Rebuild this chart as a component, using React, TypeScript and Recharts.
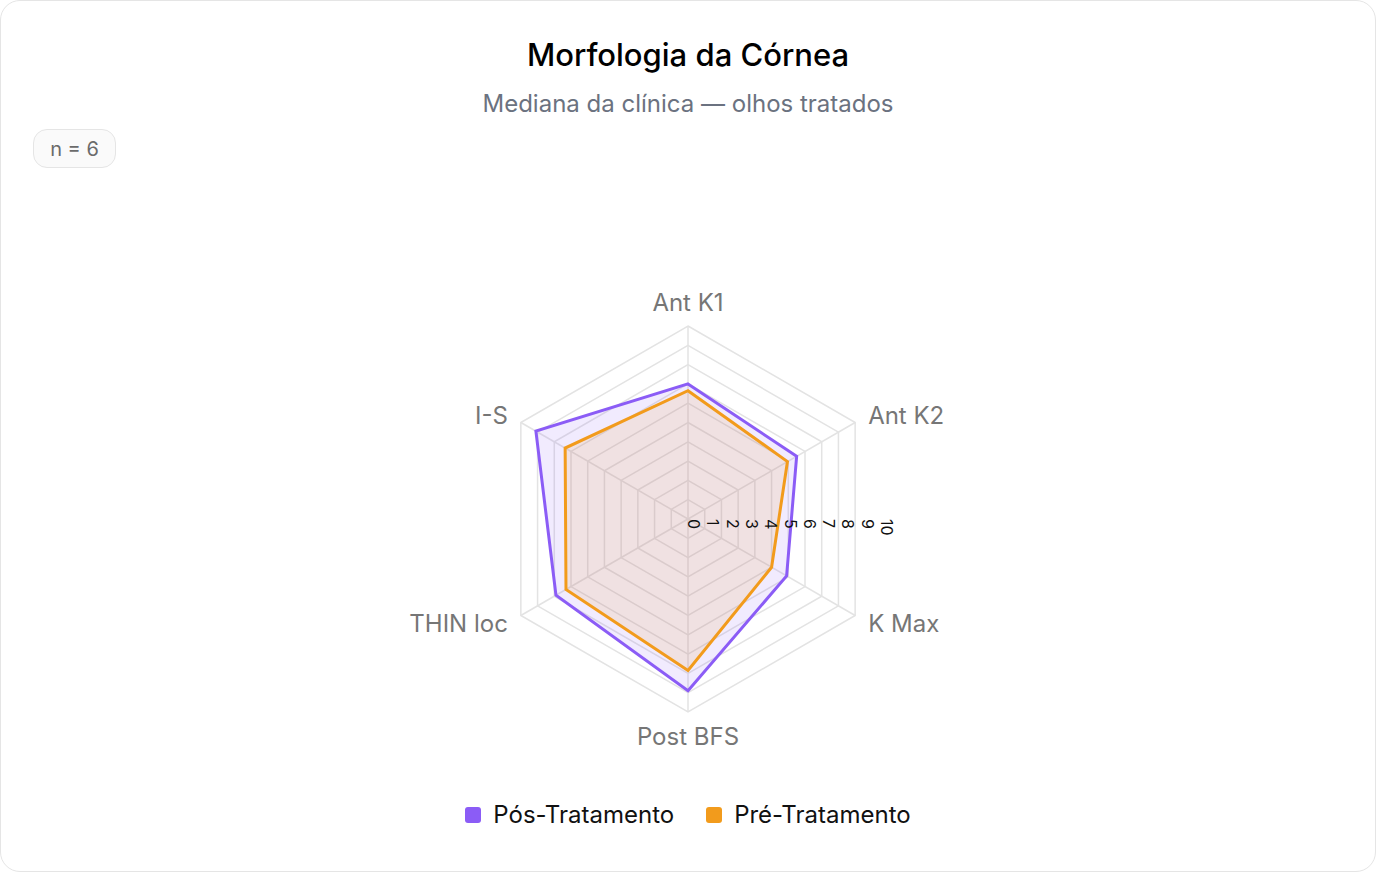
import { RadarChart, Radar, PolarGrid, PolarAngleAxis, PolarRadiusAxis } from 'recharts';

// ─── Dados ──────────────────────────────────────────────────
const categories = ['Ant K1', 'Ant K2', 'K Max', 'Post BFS', 'THIN loc', 'I-S'];
const posTratamento = [7.0, 6.5, 5.9, 8.9, 7.9, 9.1];
const preTratamento = [6.65, 5.95, 5.0, 7.85, 7.3, 7.35];
const radiusTicks = [0, 1, 2, 3, 4, 5, 6, 7, 8, 9, 10];

const data = categories.map((c, i) => ({
  metric: c,
  pos: posTratamento[i],
  pre: preTratamento[i],
}));

const CX = 688;
const CY = 519;
const R = 193;
const FONT = 'Inter, "Noto Sans", sans-serif';
const PURPLE = '#8b5cf6';
const ORANGE = '#f29b1c';

// ─── Tick do eixo angular ───────────────────────────────────
function AngleTick({ x, y, payload, textAnchor }: any) {
  const dx = x - CX;
  const dy = y - CY;
  const d = Math.hypot(dx, dy) || 1;
  const ux = dx / d;
  const uy = dy / d;
  const vertical = Math.abs(ux) < 0.01;
  const tx = x + ux * 7;
  const ty = y + uy * (vertical ? 16 : 7);
  return (
    <text
      x={tx}
      y={ty}
      textAnchor={textAnchor}
      dominantBaseline="central"
      fill="#767676"
      fontSize={24}
      fontFamily={FONT}
    >
      {payload.value}
    </text>
  );
}

// ─── Tick do eixo radial (rotacionado 90°) ──────────────────
function RadiusTick({ x, y, payload }: any) {
  return (
    <text
      x={x}
      y={y}
      transform={`rotate(90, ${x}, ${y})`}
      textAnchor="start"
      fill="#111"
      fontSize={16}
      fontFamily={FONT}
    >
      {payload.value}
    </text>
  );
}

export default function App() {
  return (
    <div style={{
      position: 'absolute', top: 0, left: 0, width: 1376, height: 872,
      boxSizing: 'border-box', border: '1px solid #e5e5e5', borderRadius: 20,
      background: '#fff', fontFamily: FONT, overflow: 'hidden',
    }}>
      <div style={{
        position: 'absolute', top: 35, left: 0, width: '100%', textAlign: 'center',
        fontSize: 31, fontWeight: 500, color: '#000', lineHeight: '38px',
      }}>
        Morfologia da Córnea
      </div>
      <div style={{
        position: 'absolute', top: 89, left: 0, width: '100%', textAlign: 'center',
        fontSize: 24, color: '#6b7280', lineHeight: '28px',
      }}>
        Mediana da clínica — olhos tratados
      </div>
      <div style={{
        position: 'absolute', top: 128, left: 32, width: 83, height: 39,
        border: '1.5px solid #e5e5e5', borderRadius: 14, background: '#fafafa',
        display: 'flex', alignItems: 'center', justifyContent: 'center',
        fontSize: 20, color: '#6b6b6b', boxSizing: 'border-box',
      }}>
        n = 6
      </div>

      <div style={{ position: 'absolute', top: -1, left: -1 }}>
        <RadarChart width={1376} height={780} data={data} cx={CX} cy={CY} outerRadius={R}>
          <PolarGrid gridType="polygon" stroke="#e3e3e3" strokeWidth={1.5} />
          <PolarAngleAxis dataKey="metric" tick={<AngleTick />} tickLine={false} axisLine={false} />
          <PolarRadiusAxis
            angle={0}
            domain={[0, 10]}
            ticks={radiusTicks}
            tickCount={11}
            axisLine={false}
            tickLine={false}
            tick={<RadiusTick />}
          />
          <Radar
            name="Pós-Tratamento"
            dataKey="pos"
            stroke={PURPLE}
            strokeWidth={3}
            fill={PURPLE}
            fillOpacity={0.12}
            isAnimationActive={false}
          />
          <Radar
            name="Pré-Tratamento"
            dataKey="pre"
            stroke={ORANGE}
            strokeWidth={3}
            fill={ORANGE}
            fillOpacity={0.12}
            isAnimationActive={false}
          />
        </RadarChart>
      </div>

      <div style={{
        position: 'absolute', top: 799, left: 0, width: '100%',
        display: 'flex', justifyContent: 'center', gap: 32, fontSize: 24, color: '#111',
      }}>
        {[['Pós-Tratamento', PURPLE], ['Pré-Tratamento', ORANGE]].map(([label, color]) => (
          <div key={label} style={{ display: 'flex', alignItems: 'center', gap: 12, lineHeight: '30px' }}>
            <span style={{ width: 16, height: 16, borderRadius: 3, background: color, display: 'inline-block' }} />
            {label}
          </div>
        ))}
      </div>
    </div>
  );
}
